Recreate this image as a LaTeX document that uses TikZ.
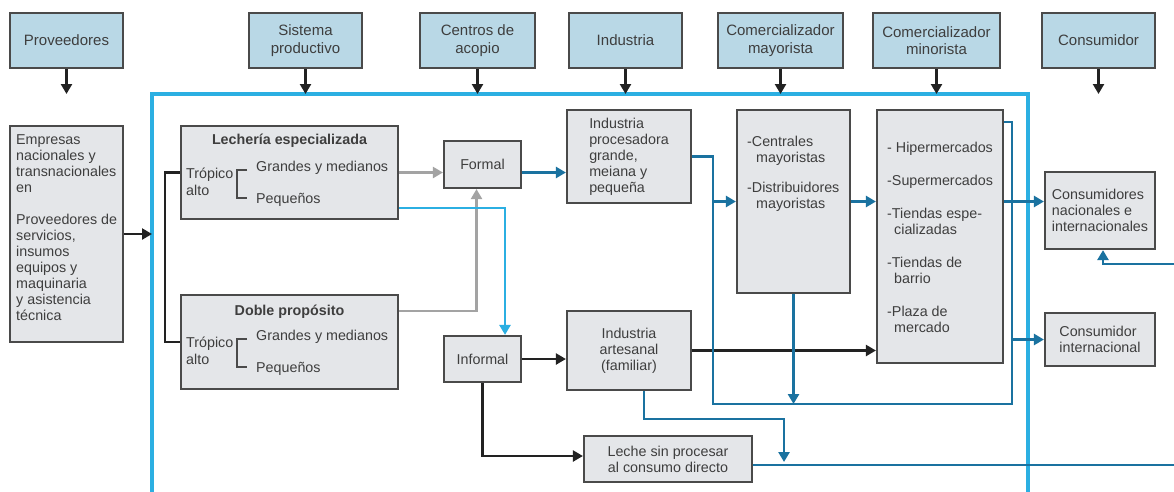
\documentclass[tikz,border=0pt]{standalone}
\usepackage{fontspec}
\setmainfont{Liberation Sans}
\usetikzlibrary{arrows.meta}
\definecolor{hdrfill}{HTML}{B9D8E6}
\definecolor{boxfill}{HTML}{E4E6E9}
\definecolor{boxline}{HTML}{4A4A4A}
\definecolor{txtc}{HTML}{3E3E3E}
\definecolor{dblue}{HTML}{1A72A0}
\definecolor{lblue}{HTML}{2BAFE2}
\definecolor{lgray}{HTML}{A3A3A3}
\definecolor{blkc}{HTML}{222222}
\begin{document}
\begin{tikzpicture}[x=1pt,y=-1pt,
  hdr/.style={draw=boxline, fill=hdrfill, line width=2pt, minimum height=55pt, text=txtc,
    font=\fontsize{15}{17.5}\selectfont, align=center, inner sep=0pt},
  gbox/.style={draw=boxline, fill=boxfill, line width=2.2pt, text=txtc,
    font=\fontsize{14.3}{16}\selectfont, inner sep=0pt},
  txtn/.style={text=txtc, font=\fontsize{14.3}{16}\selectfont, inner sep=0pt, align=left},
  boldt/.style={text=txtc, font=\fontsize{14.3}{16}\selectfont\bfseries, inner sep=0pt},
  tip/.style={-{Triangle[length=10pt,width=11pt]}},
  blkline/.style={draw=blkc, line width=2.3pt},
  gryline/.style={draw=lgray, line width=2.3pt},
  lbline/.style={draw=lblue, line width=2.5pt},
  dbline/.style={draw=dblue, line width=2.7pt},
  frameline/.style={draw=lblue, line width=3.3pt},
  brk/.style={draw=boxline, line width=2pt}
]
\useasboundingbox[fill=white] (0,0) rectangle (1174,491);

% frame
\draw[frameline] (152,500) -- (152,94) -- (1028,94) -- (1028,500);
\coordinate (fr) at (0,94);
\coordinate (fl) at (152,0);

% headers
\node[hdr, minimum width=113pt] (prov) at (66.5,40.5) {Proveedores};
\node[hdr, minimum width=113pt] (sist) at (305.5,40.5) {Sistema\\productivo};
\node[hdr, minimum width=115pt] (cent) at (477.5,40.5) {Centros de\\acopio};
\node[hdr, minimum width=113pt] (ind) at (625.5,40.5) {Industria};
\node[hdr, minimum width=125pt] (cmay) at (780.5,40.5) {Comercializador\\mayorista};
\node[hdr, minimum width=127pt] (cmin) at (936.5,40.5) {Comercializador\\minorista};
\node[hdr, minimum width=113pt] (cons) at (1098.5,40.5) {Consumidor};

\foreach \n in {prov,sist,cent,ind,cmay,cmin,cons}
  \draw[blkline,tip] (\n.south) -- (\n.south |- fr);

% boxes
\node[gbox, minimum width=113pt, minimum height=216pt] (emp) at (66.5,234) {};
\node[txtn, anchor=north west] (empt) at (16,134) {Empresas\\nacionales y\\transnacionales\\en\\[16pt]Proveedores de\\servicios,\\insumos\\equipos y\\maquinaria\\y asistencia\\técnica};

\node[gbox, minimum width=217pt, minimum height=93pt] (lech) at (289.5,172.5) {};
\node[gbox, minimum width=217pt, minimum height=94pt] (doble) at (289.5,342) {};
\node[boldt] (lecht) at (289.5,141) {Lechería especializada};
\node[boldt] (doblet) at (289.5,312) {Doble propósito};
\foreach \t/\s in {126/l,295/d}{
  \node[txtn, anchor=west] (trop\s) at (186,\t+56) {Trópico\\[1pt]alto};
  \node[txtn, anchor=west] (gym\s) at (256,\t+42) {Grandes y medianos};
  \node[txtn, anchor=west] (peq\s) at (256,\t+74) {Pequeños};
  \draw[brk] (247,\t+44) -- (237,\t+44) -- (237,\t+72) -- (247,\t+72);
}

\node[gbox, minimum width=77pt, minimum height=47pt] (formal) at (482.5,164.5) {Formal};
\node[gbox, minimum width=77pt, minimum height=46pt] (informal) at (482.5,359) {Informal};
\node[gbox, minimum width=124pt, minimum height=93pt, align=left] (iproc) at (629,156.5) {Industria\\procesadora\\grande,\\meiana y\\pequeña};
\node[gbox, minimum width=124pt, minimum height=79pt, align=center] (iart) at (629,350.5) {Industria\\artesanal\\(familiar)};
\node[gbox, minimum width=168pt, minimum height=46pt, align=center] (leche) at (668,459) {Leche sin procesar\\al consumo directo};

\node[gbox, minimum width=113pt, minimum height=183pt] (centr) at (793.5,201.5) {};
\node[txtn, anchor=north west] (centrt) at (747,136) {-Centrales\\\hspace*{9pt}mayoristas\\[14pt]-Distribuidores\\\hspace*{9pt}mayoristas};

\node[gbox, minimum width=126pt, minimum height=253pt] (mino) at (940,236.5) {};
\node[txtn, anchor=north west] (minot) at (887,142) {- Hipermercados\\[17pt]-Supermercados\\[17pt]-Tiendas espe-\\\hspace*{7pt}cializadas\\[17pt]-Tiendas de\\\hspace*{7pt}barrio\\[17pt]-Plaza de\\\hspace*{7pt}mercado};

\node[gbox, minimum width=110pt, minimum height=77pt, align=left] (cnac) at (1100,210.5) {Consumidores\\nacionales e\\internacionales};
\node[gbox, minimum width=110pt, minimum height=53pt, align=left] (cint) at (1100,339.5) {Consumidor\\internacional};

% coordinates
\coordinate (j1) at (713,404);
\coordinate (j2) at (1012,404);
\coordinate (j3) at (784,419);
\coordinate (lr) at (1180,465);
\coordinate (rr) at (1180,264);

% black connectors
\draw[blkline,tip] (emp.east) -- (emp.east -| fl);
\draw[blkline] (lech.west) -- ++(-15,0) |- (doble.west);
\draw[blkline,tip] (informal.east) -- (informal.east -| iart.west);
\draw[blkline,tip] (informal.south) |- ([yshift=3pt]leche.west);
\draw[blkline,tip] (iart.east) -- (iart.east -| mino.west);

% gray connectors
\draw[gryline,tip] (lech.east) -- (lech.east -| formal.west);
\draw[gryline,tip] ([yshift=31pt]doble.east) -| ([xshift=-6pt]formal.south);

% light blue connector
\draw[lbline,tip] ([yshift=-35.5pt]lech.east) -| ([xshift=22.5pt]informal.north);

% dark blue connectors
\draw[dbline,tip] (formal.east |- lech.east) -- (iproc.west |- lech.east);
\draw[dbline] (iproc.east) -| (j1) -- (j2) |- ([yshift=-13pt]mino.north east);
\draw[dbline,tip] (centr.west -| j1) -- (centr.west);
\draw[dbline,tip] (centr.east) -- (centr.east -| mino.west);
\draw[dbline,tip] (centr.south) -- (centr.south |- j1);
\draw[dbline,tip] (mino.east |- centr.east) -- (cnac.west |- centr.east);
\draw[dbline,tip] (j2 |- cint.west) -- (cint.west);
\draw[dbline,tip] ([xshift=15pt]iart.south) |- (j3) -- ([yshift=3pt]j3 |- lr);
\draw[dbline] ([yshift=-6pt]leche.east) -- (lr);
\draw[dbline,tip] (rr) -| ([xshift=3pt]cnac.south);
\end{tikzpicture}
\end{document}
